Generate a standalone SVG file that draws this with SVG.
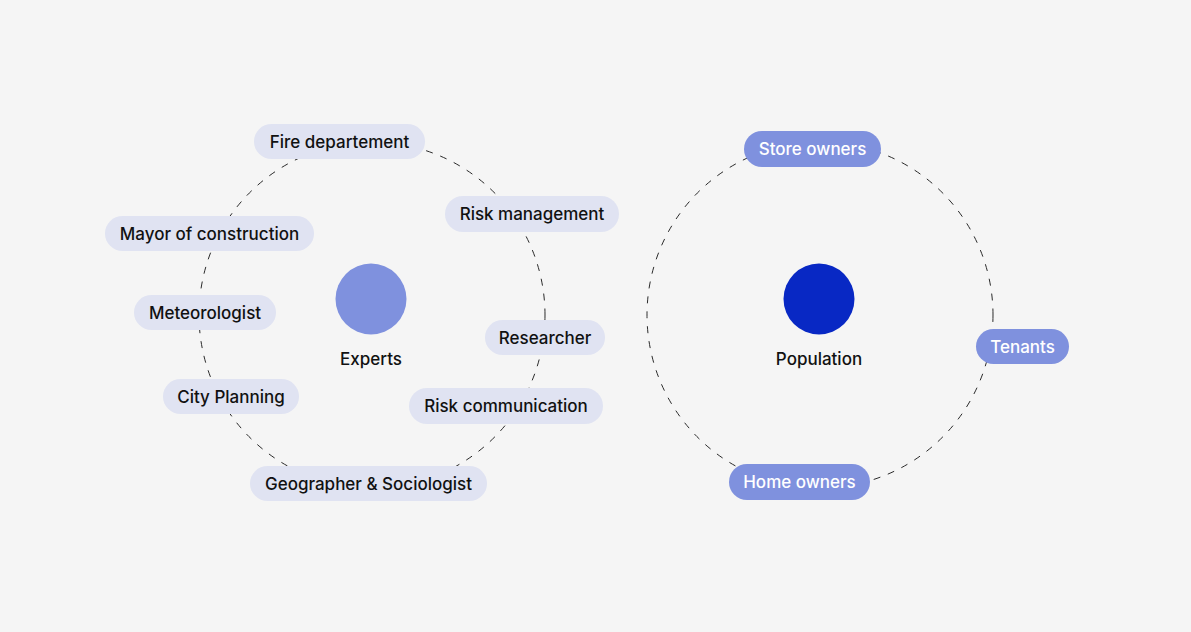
<svg xmlns="http://www.w3.org/2000/svg" width="1191" height="632" viewBox="0 0 1191 632">
<style>
.ring{fill:none;stroke:#2a2a2a;stroke-width:1;stroke-dasharray:7 8}
.pl{fill:#e0e3f2}
.pd{fill:#7f91de}
text{font-family:Inter,"Noto Sans",sans-serif;font-size:17px;font-weight:500;text-anchor:middle;dominant-baseline:central}
.tl{fill:#111}
.td{fill:#ffffff}
</style>
<rect width="1191" height="632" fill="#f5f5f5"/>
<g id="connectors">
<circle class="ring" cx="372" cy="315" r="173"/>
<circle class="ring" cx="820" cy="315" r="173"/>
</g>
<g id="experts"><circle cx="371" cy="299" r="35.5" fill="#7f91de"/><text class="tl" x="371" y="359">Experts</text></g>
<g id="population"><circle cx="819" cy="299" r="35.5" fill="#0828c4"/><text class="tl" x="819" y="359">Population</text></g>
<g id="fire"><rect class="pl" x="254" y="124" width="171" height="35" rx="17.5"/><text class="tl" x="339.5" y="141.5">Fire departement</text></g>
<g id="riskmgmt"><rect class="pl" x="445" y="196" width="174" height="36" rx="18"/><text class="tl" x="532" y="214">Risk management</text></g>
<g id="mayor"><rect class="pl" x="105" y="216" width="209" height="35" rx="17.5"/><text class="tl" x="209.5" y="233.5">Mayor of construction</text></g>
<g id="meteo"><rect class="pl" x="134" y="295" width="142" height="35" rx="17.5"/><text class="tl" x="205" y="312.5">Meteorologist</text></g>
<g id="researcher"><rect class="pl" x="485" y="320" width="120" height="35" rx="17.5"/><text class="tl" x="545" y="337.5">Researcher</text></g>
<g id="city"><rect class="pl" x="163" y="379" width="136" height="35" rx="17.5"/><text class="tl" x="231" y="396.5">City Planning</text></g>
<g id="riskcomm"><rect class="pl" x="409" y="388" width="194" height="36" rx="18"/><text class="tl" x="506" y="406">Risk communication</text></g>
<g id="geo"><rect class="pl" x="250" y="466" width="237" height="35" rx="17.5"/><text class="tl" x="368.5" y="483.5">Geographer &amp; Sociologist</text></g>
<g id="store"><rect class="pd" x="744" y="131" width="137" height="36" rx="18"/><text class="td" x="812.5" y="149">Store owners</text></g>
<g id="tenants"><rect class="pd" x="976" y="329" width="93" height="35" rx="17.5"/><text class="td" x="1022.5" y="346.5">Tenants</text></g>
<g id="home"><rect class="pd" x="729" y="464" width="141" height="36" rx="18"/><text class="td" x="799.5" y="482">Home owners</text></g>
</svg>
